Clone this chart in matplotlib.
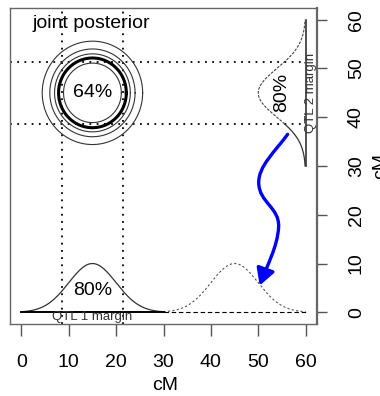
import numpy as np
import matplotlib.pyplot as plt
from matplotlib.path import Path
from matplotlib.patches import FancyArrowPatch

plt.rcParams['font.family'] = ['Liberation Sans', 'DejaVu Sans']

# marginal posteriors for the two QTL (cM)
qtl_means = [15, 45]
qtl_sd = 5
peak_height = 10
margin_lo = [8.6, 38.6]
margin_hi = [21.4, 51.4]
margin_range = [(0, 30), (30, 60)]
margin_pct = "80%"
joint_pct = "64%"

# joint posterior contour radii (cM); the thick one is the 64% region
contour_radii = [6.1, 7.15, 8.0, 9.0, 10.6]
thick_radius = 7.15

# path of the blue arrow (cM): start, control points ..., tip
arrow_pts = [(56.2, 36.5), (53.6, 33.0), (50.0, 30.0), (50.1, 26.5),
             (50.2, 22.5), (54.5, 21.5), (54.3, 17.5),
             (54.1, 13.5), (51.8, 9.5), (50.3, 5.5)]

ticks = [0, 10, 20, 30, 40, 50, 60]


def bump(t, mean):
    return peak_height * np.exp(-0.5 * ((t - mean) / qtl_sd) ** 2)


fig = plt.figure(figsize=(3.8, 3.96), dpi=100)
ax = fig.add_axes([10 / 380, 72 / 396, 307 / 380, 316 / 396])
ax.set_xlim(-2.4, 62.4)
ax.set_ylim(-2.4, 62.4)

dot = (0, (1, 3))
# credible interval lines
for v in [margin_lo[0], margin_hi[0]]:
    ax.plot([v, v], [-2.4, 62.4], color='black', lw=1.3, ls=dot)
for v in [margin_lo[1], margin_hi[1]]:
    ax.plot([-2.4, 60], [v, v], color='black', lw=1.3, ls=dot)

# joint posterior contours
t = np.linspace(0, 2 * np.pi, 300)
for r in contour_radii:
    lw = 2.2 if r == thick_radius else 0.8
    col = 'black' if r == thick_radius else '#333333'
    ax.plot(qtl_means[0] + r * np.cos(t), qtl_means[1] + r * np.sin(t),
            color=col, lw=lw)
ax.text(qtl_means[0], qtl_means[1], joint_pct, ha='center', va='center',
        fontsize=14)

# QTL 1 margin along the bottom
x1 = np.linspace(*margin_range[0], 200)
ax.plot(x1, bump(x1, qtl_means[0]), color='#333333', lw=0.9)
x2 = np.linspace(*margin_range[1], 200)
ax.plot(x2, bump(x2, qtl_means[1]), color='#555555', lw=0.8,
        ls=(0, (2, 2)))
ax.plot(margin_range[0], [0, 0], color='black', lw=1.4)
ax.plot(margin_range[1], [0, 0], color='black', lw=0.8, ls=(0, (4, 2.5)))
ax.text(qtl_means[0], 4.5, margin_pct, ha='center', va='center', fontsize=14)
ax.text(qtl_means[0], -1.0, "QTL 1 margin", ha='center', va='center',
        fontsize=9.5, color='#333333')

# QTL 2 margin along the right
y_low = np.linspace(margin_range[1][0], margin_lo[1], 60)
y_up = np.linspace(margin_lo[1], margin_range[1][1], 200)
ax.plot(60 - bump(y_low, qtl_means[1]), y_low, color='#333333', lw=0.9)
ax.plot(60 - bump(y_up, qtl_means[1]), y_up, color='#444444', lw=0.8,
        ls=(0, (2.5, 1.2)))
ax.plot([60, 60], margin_range[1], color='#222222', lw=1.1)
ax.text(55, qtl_means[1], margin_pct, ha='center', va='center', fontsize=14,
        rotation=90)
ax.text(61.2, qtl_means[1], "QTL 2 margin", ha='center', va='center',
        fontsize=9.5, color='#333333', rotation=90)

# arrow from QTL 2 margin down to the bottom
codes = [Path.MOVETO] + [Path.CURVE4] * (len(arrow_pts) - 1)
arrow = FancyArrowPatch(path=Path(arrow_pts, codes),
                        arrowstyle='-|>,head_length=0.5,head_width=0.28',
                        mutation_scale=20, color='#0000ff', lw=2.4,
                        shrinkA=0, shrinkB=0)
ax.add_patch(arrow)

ax.text(2.3, 58.3, "joint posterior", ha='left', va='baseline', fontsize=14)

# axes in base-R style: bottom and right
ax.set_xticks(ticks)
ax.set_yticks(ticks)
ax.yaxis.tick_right()
ax.tick_params(axis='x', direction='out', length=8.6, width=1,
               color='#555555', labelsize=14, pad=13)
ax.tick_params(axis='y', direction='out', length=7.2, width=1,
               color='#555555', labelsize=14, pad=15, labelrotation=90)
for lab in ax.get_yticklabels():
    lab.set_va('center')
for s in ax.spines.values():
    s.set_color('#666666')
    s.set_linewidth(1.0)
ax.spines['right'].set_linewidth(1.6)

fig.text(165 / 380, 1 - 386 / 396, "cM", ha='center', va='center',
         fontsize=14)
fig.text(381 / 380, 1 - 166 / 396, "cM", ha='center', va='center',
         fontsize=14, rotation=90)

fig.savefig("out.png", dpi=100)
